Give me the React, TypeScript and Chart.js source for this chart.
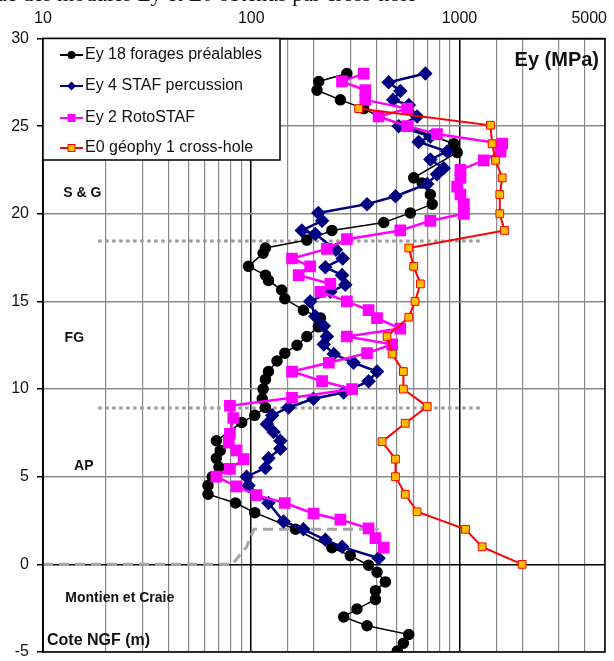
import React, { useEffect, useRef } from 'react';
import { Chart, registerables } from 'chart.js';

Chart.register(...registerables);

if (typeof document !== 'undefined') {
  document.body.style.margin = '0';
}

// ---- Data (depth in m NGF, modulus in MPa) ----
const forageDepth = [28.0, 27.55, 27.05, 26.5, 26.0, 25.55, 24.0, 23.5, 22.05, 21.75, 21.1, 20.55, 20.05, 19.5, 19.05, 18.5, 18.05, 17.75, 17.0, 16.5, 16.2, 15.65, 15.15, 14.5, 14.05, 13.55, 13.0, 12.5, 12.05, 11.6, 11.0, 10.55, 10.0, 9.45, 8.95, 8.5, 8.1, 7.05, 6.5, 6.05, 5.55, 5.0, 4.5, 4.0, 3.5, 2.95, 2.0, 0.95, 0.5, -0.05, -0.45, -1.0, -1.5, -2.0, -2.55, -3.0, -3.5, -4.0, -4.5, -4.95];
const forageEy = [288, 211, 207, 268, 347, 410, 939, 975, 603, 662, 725, 740, 581, 433, 244, 185, 117, 114, 97, 117, 121, 140, 145, 178, 215, 210, 185, 166, 145, 133, 121, 117, 114, 113, 117, 104, 90, 68, 71, 68, 70, 65, 62, 62, 84, 104, 163, 244, 299, 366, 402, 441, 395, 395, 322, 278, 360, 571, 538, 503];

const percDepth = [28.0, 27.5, 27.0, 26.5, 26.2, 25.55, 25.0, 24.4, 24.1, 23.55, 23.1, 22.6, 22.25, 21.7, 21.0, 20.55, 20.05, 19.6, 19.05, 18.85, 17.95, 17.45, 16.95, 16.5, 15.95, 15.55, 15.0, 14.15, 13.6, 13.0, 12.55, 12.0, 11.5, 11.0, 10.45, 9.8, 9.45, 8.95, 8.5, 8.0, 7.55, 7.05, 6.6, 6.05, 5.5, 5.0, 4.5, 3.5, 2.45, 2.0, 1.4, 1.0, 0.35];
const percEy = [686, 457, 520, 480, 571, 626, 511, 725, 637, 873, 725, 840, 780, 700, 493, 360, 210, 219, 175, 203, 255, 275, 227, 273, 283, 240, 192, 203, 223, 231, 223, 249, 310, 402, 366, 278, 199, 151, 126, 119, 128, 138, 138, 121, 117, 95, 97, 121, 143, 178, 227, 273, 409];

const rotoDepth = [28.0, 27.55, 27.05, 26.5, 26.0, 25.55, 25.0, 24.55, 24.0, 23.55, 23.05, 22.5, 22.05, 21.55, 21.1, 20.55, 20.0, 19.6, 19.05, 18.55, 18.0, 17.45, 17.0, 16.5, 16.0, 15.55, 15.0, 14.5, 14.05, 13.45, 13.0, 12.55, 12.05, 11.5, 11.0, 10.45, 10.0, 9.5, 9.05, 8.35, 7.45, 6.95, 6.5, 6.0, 5.45, 5.0, 4.45, 3.95, 3.5, 2.9, 2.55, 2.05, 1.5, 0.95];
const rotoEy = [347, 273, 353, 353, 561, 409, 561, 780, 1604, 1574, 1309, 1011, 1011, 975, 1011, 1050, 1050, 725, 520, 288, 231, 157, 192, 169, 240, 215, 288, 366, 402, 520, 288, 475, 360, 236, 157, 219, 305, 157, 79, 82, 79, 78, 85, 92, 79, 68, 85, 106, 145, 199, 268, 366, 395, 433];

const crossDepth = [26.0, 25.05, 24.0, 23.05, 22.05, 21.1, 20.0, 19.05, 18.05, 17.0, 16.0, 15.0, 14.1, 13.0, 12.0, 11.0, 10.0, 9.0, 8.05, 7.0, 6.0, 5.0, 4.0, 3.0, 2.0, 1.0, 0.0];
const crossE0 = [328, 1409, 1435, 1490, 1604, 1562, 1562, 1646, 571, 603, 649, 612, 571, 449, 475, 538, 538, 700, 549, 425, 493, 493, 549, 626, 1069, 1285, 2000];

// layer limits
const limitDepths = [18.45, 8.92];
const limitRange = [18.4, 1300];
const profileDepth = [0, 0, 1, 2, 2];
const profileValue = [10, 81, 95, 103, 409];

const xTickLabels = [10, 100, 1000, 5000];
const seriesNames = ['Ey 18 forages préalables', 'Ey 4 STAF percussion', 'Ey 2 RotoSTAF', 'E0 géophy 1 cross-hole'];
const layerNames = ['S & G', 'FG', 'AP', 'Montien et Craie'];
const layerDepths = [21.18, 12.9, 5.58, -1.92];
const layerValues = [12.5, 12.7, 14.1, 12.8];

const FONT = '"Liberation Sans", Arial, Helvetica, sans-serif';

const pts = (ys: number[], xs: number[]) => ys.map((y, i) => ({ x: xs[i], y }));

const overlay = {
  id: 'overlay',
  afterDatasetsDraw(chart: any) {
    const { ctx, chartArea: a, scales } = chart;
    const xs = scales.x;
    const ys = scales.y;
    ctx.save();
    // frame
    ctx.strokeStyle = '#000';
    ctx.lineWidth = 1.5;
    ctx.strokeRect(a.left, a.top, a.right - a.left, a.bottom - a.top);

    // top tick labels
    ctx.fillStyle = '#111';
    ctx.font = `16px ${FONT}`;
    ctx.textBaseline = 'alphabetic';
    xTickLabels.forEach((v, i) => {
      const px = xs.getPixelForValue(v);
      ctx.textAlign = i === xTickLabels.length - 1 ? 'right' : 'center';
      ctx.fillText(String(v), i === xTickLabels.length - 1 ? px + 2 : px, 23);
    });

    // layer labels
    ctx.fillStyle = '#111';
    ctx.textAlign = 'left';
    ctx.textBaseline = 'middle';
    ctx.font = `bold 14px ${FONT}`;
    layerNames.forEach((n, i) => {
      ctx.fillText(n, xs.getPixelForValue(layerValues[i]), ys.getPixelForValue(layerDepths[i]));
    });
    ctx.font = `bold 16px ${FONT}`;
    ctx.fillText('Cote NGF (m)', a.left + 4, ys.getPixelForValue(-4.35));

    // axis title
    ctx.font = `bold 20px ${FONT}`;
    ctx.textAlign = 'right';
    ctx.fillText('Ey (MPa)', a.right - 6, a.top + 22);

    // legend
    const bx = a.left, by = a.top, bw = 237, bh = 121.5;
    ctx.fillStyle = '#fff';
    ctx.fillRect(bx, by, bw, bh);
    ctx.strokeStyle = '#000';
    ctx.lineWidth = 1.5;
    ctx.strokeRect(bx, by, bw, bh);
    const rows = [16.5, 47.5, 79.5, 109.5];
    const colors = ['#000000', '#000080', '#FF00FF', '#FF0000'];
    seriesNames.forEach((name, i) => {
      const cy = by + rows[i];
      ctx.strokeStyle = colors[i];
      ctx.lineWidth = 2;
      ctx.beginPath();
      ctx.moveTo(bx + 17, cy);
      ctx.lineTo(bx + 40, cy);
      ctx.stroke();
      const mx = bx + 28.5;
      ctx.beginPath();
      if (i === 0) {
        ctx.fillStyle = '#000';
        ctx.arc(mx, cy, 4, 0, Math.PI * 2);
        ctx.fill();
      } else if (i === 1) {
        ctx.fillStyle = '#000080';
        ctx.moveTo(mx, cy - 4.5);
        ctx.lineTo(mx + 4.5, cy);
        ctx.lineTo(mx, cy + 4.5);
        ctx.lineTo(mx - 4.5, cy);
        ctx.closePath();
        ctx.fill();
      } else if (i === 2) {
        ctx.fillStyle = '#FF00FF';
        ctx.fillRect(mx - 4, cy - 4, 8, 8);
      } else {
        ctx.fillStyle = '#FFC000';
        ctx.fillRect(mx - 3.5, cy - 3.5, 7, 7);
        ctx.strokeStyle = '#FF0000';
        ctx.lineWidth = 1;
        ctx.strokeRect(mx - 3.5, cy - 3.5, 7, 7);
      }
      ctx.fillStyle = '#111';
      ctx.font = `16px ${FONT}`;
      ctx.textAlign = 'left';
      ctx.textBaseline = 'middle';
      ctx.fillText(name, bx + 42, cy);
    });
    ctx.restore();
  },
};

export default function App() {
  const ref = useRef<HTMLCanvasElement | null>(null);
  useEffect(() => {
    if (!ref.current) return;
    const isMajor = (v: number) => v === 10 || v === 100 || v === 1000;
    const chart = new Chart(ref.current, {
      type: 'scatter',
      data: {
        datasets: [
          {
            label: 'limit1',
            data: limitRange.map((x) => ({ x, y: limitDepths[0] })),
            showLine: true,
            borderColor: '#9a9a9a',
            borderWidth: 3,
            borderDash: [3.5, 3.5],
            pointRadius: 0,
            order: 10,
          },
          {
            label: 'limit2',
            data: limitRange.map((x) => ({ x, y: limitDepths[1] })),
            showLine: true,
            borderColor: '#9a9a9a',
            borderWidth: 3,
            borderDash: [3.5, 3.5],
            pointRadius: 0,
            order: 10,
          },
          {
            label: 'profile',
            data: pts(profileDepth, profileValue),
            showLine: true,
            borderColor: '#a6a6a6',
            borderWidth: 3,
            borderDash: [10, 6],
            pointRadius: 0,
            order: 9,
          },
          {
            label: seriesNames[0],
            data: pts(forageDepth, forageEy),
            showLine: true,
            borderColor: '#000000',
            borderWidth: 1.5,
            backgroundColor: '#000000',
            pointBackgroundColor: '#000000',
            pointBorderColor: '#000000',
            pointStyle: 'circle',
            pointRadius: 5,
            order: 4,
          },
          {
            label: seriesNames[1],
            data: pts(percDepth, percEy),
            showLine: true,
            borderColor: '#000080',
            borderWidth: 2.5,
            pointBackgroundColor: '#000080',
            pointBorderColor: '#000080',
            pointStyle: 'rectRot',
            pointRadius: 5.5,
            order: 3,
          },
          {
            label: seriesNames[2],
            data: pts(rotoDepth, rotoEy),
            showLine: true,
            borderColor: '#FF00FF',
            borderWidth: 2.5,
            pointBackgroundColor: '#FF00FF',
            pointBorderColor: '#FF00FF',
            pointStyle: 'rect',
            pointRadius: 6.5,
            order: 2,
          },
          {
            label: seriesNames[3],
            data: pts(crossDepth, crossE0),
            showLine: true,
            borderColor: '#FF0000',
            borderWidth: 2,
            pointBackgroundColor: '#FFC000',
            pointBorderColor: '#FF0000',
            pointBorderWidth: 1,
            pointStyle: 'rect',
            pointRadius: 5.5,
            order: 1,
          },
        ],
      },
      options: {
        animation: false,
        responsive: false,
        devicePixelRatio: 1,
        layout: { padding: { left: 0, top: 0, right: 9, bottom: 2 } },
        plugins: { legend: { display: false }, tooltip: { enabled: false } },
        scales: {
          x: {
            type: 'logarithmic',
            position: 'top',
            min: 10,
            max: 5000,
            ticks: { display: false },
            grid: {
              drawTicks: false,
              color: (c: any) => (c.tick && isMajor(c.tick.value) ? '#000000' : '#8a8a8a'),
              lineWidth: (c: any) => (c.tick && isMajor(c.tick.value) ? 1.5 : 1.2),
            },
            border: { display: true, color: '#000', width: 1.5 },
            afterFit: (s: any) => {
              s.height = 38.5;
              s.paddingLeft = 0;
              s.paddingRight = 0;
            },
          },
          y: {
            type: 'linear',
            min: -5,
            max: 30,
            ticks: {
              stepSize: 5,
              autoSkip: false,
              padding: 8,
              color: '#111',
              font: { family: FONT, size: 16 },
            },
            grid: {
              tickLength: 6,
              tickColor: '#000',
              color: (c: any) => (c.tick && c.tick.value === 0 ? '#000000' : '#8a8a8a'),
              lineWidth: 1.5,
            },
            border: { display: true, color: '#000', width: 1.5 },
            afterFit: (s: any) => {
              s.width = 43;
              s.paddingTop = 0;
              s.paddingBottom = 0;
            },
          },
        },
      },
      plugins: [overlay],
    } as any);
    return () => chart.destroy();
  }, []);

  return (
    <div style={{ position: 'relative', width: 614, height: 661, background: '#fff' }}>
      <canvas ref={ref} width={614} height={661} style={{ display: 'block', width: 614, height: 661 }} />
      <div style={{ position: 'absolute', left: 0, top: 0, width: 614, height: 7, overflow: 'hidden' }}>
        <div style={{ position: 'absolute', left: -4, top: -19, whiteSpace: 'nowrap', font: '22px "Liberation Serif", "Times New Roman", serif', color: '#111' }}>
          ue des modules Ey et E0 obtenus par cross-hole
        </div>
      </div>
    </div>
  );
}
